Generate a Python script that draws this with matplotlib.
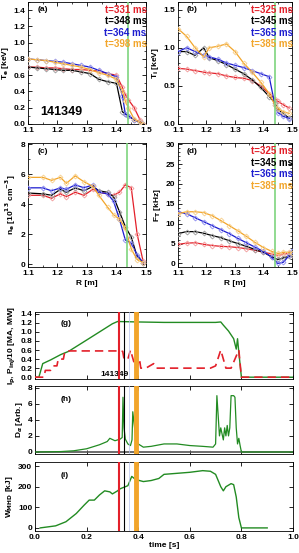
import matplotlib
matplotlib.use("Agg")
import matplotlib.pyplot as plt
from matplotlib.ticker import MultipleLocator

plt.rcParams["font.family"] = ["Liberation Sans", "DejaVu Sans"]
plt.rcParams["font.weight"] = "bold"
plt.rcParams["axes.labelweight"] = "bold"
plt.rcParams["font.size"] = 6

W, H = 299, 553

COLORS = ["#e3202a", "#000000", "#1c1ccf", "#f2a52a"]
LIGHT = ["#f29a9a", "#9a9a9a", "#8c8cf0", "#f7cf8a"]

# ---- profile data (R in m) ----
te_labels = ["t=331 ms", "t=348 ms", "t=364 ms", "t=398 ms"]
te_r = [1.10, 1.13, 1.16, 1.19, 1.22, 1.25, 1.28, 1.31, 1.34, 1.37, 1.40, 1.42, 1.43, 1.44, 1.46, 1.48, 1.49]
te_vals = [
    [0.70, 0.70, 0.69, 0.69, 0.68, 0.67, 0.67, 0.66, 0.65, 0.62, 0.60, 0.45, 0.36, 0.30, 0.20, 0.05, 0.00],
    [0.70, 0.69, 0.68, 0.67, 0.66, 0.66, 0.64, 0.62, 0.55, 0.52, 0.50, 0.15, 0.12, 0.10, 0.05, 0.02, 0.00],
    [0.80, 0.79, 0.78, 0.77, 0.76, 0.74, 0.72, 0.70, 0.66, 0.62, 0.58, 0.35, 0.12, 0.10, 0.05, 0.02, 0.00],
    [0.80, 0.79, 0.78, 0.76, 0.74, 0.72, 0.70, 0.67, 0.63, 0.60, 0.55, 0.40, 0.28, 0.20, 0.06, 0.02, 0.00],
]

ti_labels = ["t=325 ms", "t=345 ms", "t=365 ms", "t=385 ms"]
ti_r = [1.10, 1.13, 1.16, 1.19, 1.21, 1.24, 1.27, 1.30, 1.33, 1.36, 1.39, 1.42, 1.44, 1.45, 1.47, 1.49]
ti_vals = [
    [0.73, 0.72, 0.70, 0.68, 0.67, 0.66, 0.63, 0.61, 0.60, 0.57, 0.50, 0.40, 0.33, 0.30, 0.25, 0.21],
    [0.95, 0.95, 0.90, 1.00, 0.87, 0.83, 0.78, 0.72, 0.66, 0.58, 0.48, 0.36, 0.28, 0.20, 0.13, 0.08],
    [0.95, 1.00, 0.95, 0.90, 0.88, 0.85, 0.80, 0.77, 0.74, 0.70, 0.66, 0.62, 0.25, 0.15, 0.10, 0.07],
    [1.25, 1.15, 1.00, 0.88, 1.00, 1.02, 1.05, 0.95, 0.80, 0.68, 0.55, 0.40, 0.25, 0.20, 0.16, 0.14],
]

ne_r = [1.10, 1.15, 1.18, 1.21, 1.23, 1.26, 1.29, 1.32, 1.34, 1.37, 1.39, 1.41, 1.43, 1.45, 1.47, 1.49]
ne_vals = [
    [4.6, 4.6, 4.4, 4.7, 4.5, 4.8, 4.6, 5.0, 4.8, 4.7, 4.6, 4.8, 5.3, 5.1, 2.0, 0.2],
    [4.75, 4.7, 4.6, 5.0, 4.8, 5.1, 4.9, 5.2, 4.9, 4.8, 4.5, 3.5, 2.5, 1.8, 0.5, 0.1],
    [5.1, 5.1, 4.9, 5.1, 5.0, 5.3, 5.1, 5.3, 4.8, 4.7, 4.2, 3.0, 1.6, 1.4, 0.6, 0.1],
    [5.8, 5.8, 5.6, 5.8, 5.4, 5.9, 5.5, 5.2, 4.6, 3.8, 3.3, 3.0, 2.4, 1.0, 0.3, 0.1],
]

ft_r = [1.10, 1.13, 1.16, 1.19, 1.22, 1.25, 1.28, 1.31, 1.34, 1.37, 1.40, 1.43, 1.45, 1.47, 1.49, 1.50]
ft_vals = [
    [4.8, 5.1, 5.2, 4.8, 4.5, 4.3, 4.2, 4.0, 3.7, 3.3, 2.8, 2.4, 2.0, 2.4, 2.5, 2.2],
    [7.5, 8.0, 8.0, 7.6, 7.0, 6.5, 5.7, 5.0, 4.3, 3.5, 2.8, 1.6, 1.0, 1.4, 1.8, 2.0],
    [13.0, 12.5, 11.5, 10.5, 9.5, 8.5, 7.5, 6.3, 5.2, 4.1, 3.0, 1.5, 0.0, 0.3, 2.0, 3.0],
    [12.5, 13.0, 13.0, 12.8, 12.0, 10.8, 9.5, 8.2, 6.8, 5.3, 4.0, 3.0, 2.5, 2.8, 2.8, 2.6],
]

# ---- time traces ----
ip_t = [0.0, 0.015, 0.03, 0.06, 0.10, 0.13, 0.20, 0.30, 0.32, 0.40, 0.50, 0.60, 0.70, 0.72, 0.73,
        0.75, 0.77, 0.78, 0.785, 0.79, 0.80, 0.85, 0.90, 1.0]
ip_v = [0.0, 0.0, 0.30, 0.38, 0.50, 0.57, 0.82, 1.18, 1.23, 1.22, 1.21, 1.21, 1.21, 1.22, 1.15,
        1.02, 0.85, 0.62, 0.85, 0.55, 0.0, 0.0, 0.0, 0.0]
pinj_t = [0.0, 0.035, 0.04, 0.06, 0.07, 0.085, 0.09, 0.11, 0.115, 0.12, 0.33, 0.34, 0.345, 0.36, 0.37,
          0.39, 0.395, 0.405, 0.41, 0.42, 0.43, 0.46, 0.47, 0.48, 0.68, 0.70, 0.72, 0.74, 0.76,
          0.79, 0.80, 0.82, 1.0]
pinj_v = [0.0, 0.0, 0.15, 0.15, 0.25, 0.25, 0.40, 0.40, 0.55, 0.58, 0.58, 0.57, 0.40, 0.40, 0.60,
          0.20, 0.22, 0.40, 0.20, 0.20, 0.20, 0.30, 0.20, 0.20, 0.20, 0.25, 0.60, 0.20, 0.20,
          0.60, 0.0, 0.0, 0.0]

da_t = [0.0, 0.10, 0.15, 0.20, 0.25, 0.28, 0.29, 0.31, 0.33, 0.338, 0.341, 0.345, 0.35, 0.36, 0.37,
        0.376, 0.379, 0.385, 0.39, 0.40, 0.42, 0.45, 0.50, 0.55, 0.60, 0.65, 0.69, 0.70, 0.705,
        0.71, 0.715, 0.72, 0.73, 0.735, 0.74, 0.745, 0.75, 0.755, 0.76, 0.77, 0.775, 0.78, 0.785,
        0.79, 0.795, 0.80, 0.85, 0.90, 1.0]
da_v = [0.0, 0.05, 0.15, 0.4, 0.9, 1.3, 1.7, 1.4, 1.6, 1.8, 6.8, 3.0, 1.6, 1.0, 0.8,
        1.5, 5.0, 3.3, 1.8, 1.0, 0.6, 0.7, 1.0, 1.0, 0.8, 0.7, 0.6, 1.0, 7.0,
        4.5, 2.0, 3.0, 1.5, 3.0, 2.0, 3.3, 2.0, 3.0, 7.0, 7.0, 6.8, 3.0, 1.0,
        1.7, 0.8, 0.0, 0.0, 0.0, 0.0]

w_t = [0.02, 0.05, 0.08, 0.12, 0.16, 0.19, 0.21, 0.23, 0.25, 0.27, 0.29, 0.30, 0.32, 0.33, 0.34,
       0.36, 0.375, 0.39, 0.42, 0.45, 0.48, 0.50, 0.55, 0.60, 0.65, 0.68, 0.70, 0.72, 0.73,
       0.74, 0.76, 0.77, 0.78, 0.79, 0.80, 0.90]
w_v = [0, 5, 10, 30, 70, 110, 135, 135, 160, 180, 175, 165, 180, 190, 195,
       205, 250, 235, 225, 230, 240, 260, 265, 270, 278, 275, 260, 200, 180,
       200, 215, 210, 150, 50, 0, 0]

time_marks = [0.325, 0.345, 0.365, 0.39]
mark_colors = ["#e3202a", "#000000", "#b8c4ee", "#f2a52a"]
mark_widths = [1.5, 0.8, 0.5, 3.5]
green = "#228b22"


def px_axes(fig, left, right, top, bottom):
    return fig.add_axes([left / W, 1 - bottom / H, (right - left) / W, (bottom - top) / H])


def style(ax):
    ax.tick_params(which="both", direction="in", top=True, right=True, labelsize=6, pad=2)
    ax.tick_params(which="major", length=3, width=0.6)
    ax.tick_params(which="minor", length=1.5, width=0.5)
    for s in ax.spines.values():
        s.set_linewidth(0.6)
    for lab in ax.get_xticklabels() + ax.get_yticklabels():
        lab.set_fontweight("bold")


def profile(ax, r, vals, labels, ylim, ymaj, ymin, ylabel, tag, fmt, sep=1.44):
    for i, v in enumerate(vals):
        ax.plot(r, v, color=COLORS[i], lw=0.9, marker="D", ms=2.5, mfc="none",
                mec=LIGHT[i], mew=0.6, zorder=3 + i)
    ax.axvline(sep, color="#7ed47e", lw=1.2, zorder=10)
    ax.set_xlim(1.1, 1.5)
    ax.set_ylim(*ylim)
    ax.xaxis.set_major_locator(MultipleLocator(0.1))
    ax.xaxis.set_minor_locator(MultipleLocator(0.05))
    ax.yaxis.set_major_locator(MultipleLocator(ymaj))
    ax.yaxis.set_minor_locator(MultipleLocator(ymin))
    ax.yaxis.set_major_formatter(fmt)
    ax.set_ylabel(ylabel, fontsize=6, labelpad=2)
    ax.text(0.08, 0.935, tag, transform=ax.transAxes, fontsize=6, fontweight="bold", va="center")
    for i, lab in enumerate(labels):
        ax.text(1.005, 0.935 - i * 0.093, lab, transform=ax.transAxes, color=COLORS[i],
                fontsize=7, fontweight="bold", ha="right", va="center", zorder=20)
    style(ax)


fig = plt.figure(figsize=(W / 100, H / 100), dpi=100)

ax_a = px_axes(fig, 28, 146, 2, 124)
profile(ax_a, te_r, te_vals, te_labels, (0, 1.5), 0.2, 0.1, "T$_\\mathbf{e}$ [keV]", "(a)", "{x:.1f}")
ax_a.text(0.1, 0.07, "141349", transform=ax_a.transAxes, fontsize=9, fontweight="bold")

ax_b = px_axes(fig, 178, 292, 2, 124)
profile(ax_b, ti_r, ti_vals, ti_labels, (0, 1.6), 0.5, 0.1, "T$_\\mathbf{i}$ [keV]", "(b)", "{x:.1f}")

ax_c = px_axes(fig, 28, 146, 143, 267)
profile(ax_c, ne_r, ne_vals, [], (-0.2, 8.1), 2, 1, "n$_\\mathbf{e}$ [10$^{\\mathbf{13}}$ cm$^{\\mathbf{-3}}$]",
        "(c)", "{x:.0f}", sep=1.435)
ax_c.set_xlabel("R [m]", fontsize=6, labelpad=2)

ax_d = px_axes(fig, 178, 292, 143, 267)
profile(ax_d, ft_r, ft_vals, ti_labels, (-0.9, 30.3), 5, 1, "F$_\\mathbf{T}$ [kHz]", "(d)", "{x:.0f}")
ax_d.set_xlabel("R [m]", fontsize=6, labelpad=2)

# ---- time traces ----
ax_g = px_axes(fig, 35, 293, 312, 379)
ax_h = px_axes(fig, 35, 293, 386, 454)
ax_i = px_axes(fig, 35, 293, 462, 531)

ax_g.plot(ip_t, ip_v, color=green, lw=1.0, zorder=3)
ax_g.plot(pinj_t, pinj_v, color="#e3202a", lw=1.2, ls=(0, (5, 3)), zorder=4)
ax_g.set_ylim(-0.04, 1.44)
ax_g.yaxis.set_major_locator(MultipleLocator(0.2))
ax_g.yaxis.set_major_formatter("{x:.1f}")
ax_g.set_ylabel("I$_\\mathbf{p}$, P$_\\mathbf{inj}$/10 [MA, MW]", fontsize=6, labelpad=2)
ax_g.text(0.1, 0.8, "(g)", transform=ax_g.transAxes, fontsize=6, fontweight="bold")
ax_g.text(0.255, 0.04, "141349", transform=ax_g.transAxes, fontsize=6, fontweight="bold")

ax_h.axhline(0, color="#555555", lw=1.2, zorder=2)
ax_h.plot(da_t, da_v, color=green, lw=0.9, zorder=3)
ax_h.set_ylim(-0.25, 8.2)
ax_h.yaxis.set_major_locator(MultipleLocator(2))
ax_h.set_ylabel("D$_\\alpha$ [Arb.]", fontsize=6, labelpad=2)
ax_h.text(0.1, 0.78, "(h)", transform=ax_h.transAxes, fontsize=6, fontweight="bold")

ax_i.plot(w_t, w_v, color=green, lw=1.0, zorder=3)
ax_i.set_ylim(-15, 320)
ax_i.yaxis.set_major_locator(MultipleLocator(100))
ax_i.set_ylabel("W$_\\mathbf{MHD}$ [kJ]", fontsize=6, labelpad=2)
ax_i.text(0.1, 0.78, "(i)", transform=ax_i.transAxes, fontsize=6, fontweight="bold")
ax_i.set_xlabel("time [s]", fontsize=6, labelpad=1)

for ax in (ax_g, ax_h, ax_i):
    for t, c, lw in zip(time_marks, mark_colors, mark_widths):
        ax.axvline(t, color=c, lw=lw, zorder=5)
    ax.set_xlim(0, 1.0)
    ax.xaxis.set_major_locator(MultipleLocator(0.2))
    ax.xaxis.set_minor_locator(MultipleLocator(0.1))
    ax.tick_params(which="both", direction="in", top=True, right=True, labelsize=6, pad=2)
    ax.tick_params(which="major", length=3, width=0.6)
    ax.tick_params(which="minor", length=0, width=0.5)
    for s in ax.spines.values():
        s.set_linewidth(0.6)
    for lab in ax.get_yticklabels() + ax.get_xticklabels():
        lab.set_fontweight("bold")
ax_g.tick_params(labelbottom=False)
ax_h.tick_params(labelbottom=False)
ax_i.xaxis.set_major_formatter("{x:.1f}")
for lab in ax_i.get_xticklabels():
    lab.set_fontweight("bold")

fig.savefig("out.png", dpi=100)
